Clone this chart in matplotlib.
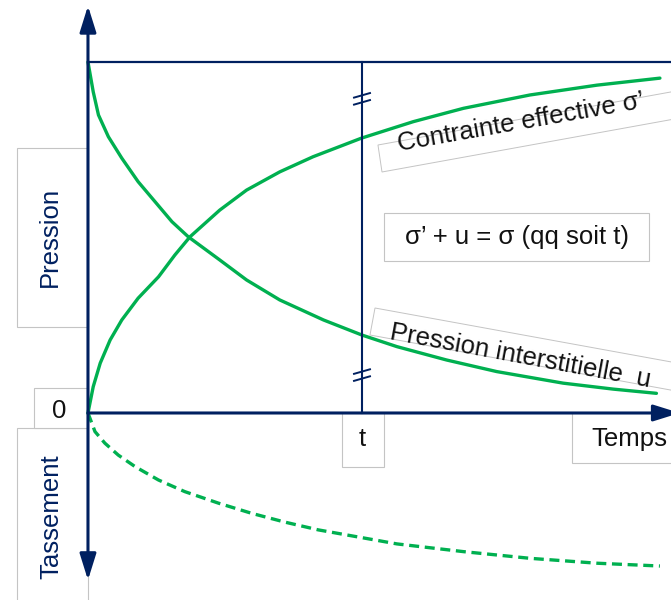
import matplotlib
matplotlib.use('Agg')
import matplotlib.pyplot as plt
from matplotlib.patches import Rectangle, Polygon, FancyArrowPatch

plt.rcParams['font.family'] = ['Liberation Sans', 'DejaVu Sans']

# time axis 0..100, pressure axis 0..100 (sigma = 100)
# pore pressure u
t_u = [0, 0.9, 1.8, 3.5, 5.8, 8.6, 11.5, 14.4, 17.2, 22.6, 27.2, 32.9, 40.4,
       47.0, 53.0, 61.5, 70.1, 81.5, 90.1, 97.5]
u = [100, 91.5, 84.9, 78.7, 72.6, 65.9, 60.2, 54.5, 50.2, 43.6, 37.9, 32.2, 26.5,
     22.2, 18.9, 15.1, 11.8, 8.5, 6.8, 5.6]

# effective stress sigma'
t_s = [0, 0.9, 2.1, 3.8, 5.8, 8.6, 12.1, 14.9, 17.5, 22.6, 27.2, 32.9, 38.6,
       46.9, 55.8, 64.4, 75.8, 87.3, 98.1]
sig_eff = [0, 7.5, 14.2, 20.8, 26.5, 32.7, 38.8, 45.0, 50.2, 57.8, 63.5, 68.7, 73.0,
           78.3, 83.0, 86.8, 90.6, 93.4, 95.4]

# settlement (plotted downwards)
t_tass = [0, 1.2, 2.9, 5.2, 8.1, 12.1, 16.6, 22.4, 28.1, 33.8, 39.5, 53.0, 64.4,
          75.8, 87.3, 98.1]
tass = [0, -5.3, -8.6, -12.0, -15.3, -19.1, -22.4, -25.7, -28.6, -31.1, -33.3,
        -37.3, -39.5, -41.4, -42.8, -43.6]

t_mark = 47.0   # instant t
sigma = 100

navy = '#002060'
green = '#00b050'
grey = '#c4c4c4'
fs = 18.5

fig = plt.figure(figsize=(6.71, 6.0), dpi=100)
ax = fig.add_axes([0, 0, 1, 1])
ax.set_xlim(-15.09, 100)
ax.set_ylim(-53.28, 117.66)
ax.axis('off')

# label boxes
def box(x0, y0, x1, y1):
    ax.add_patch(Rectangle((x0, y0), x1 - x0, y1 - y0, facecolor='white',
                           edgecolor=grey, lw=0.8, zorder=1))

box(-12.18, 24.5, 0, 75.5)      # Pression
box(-12.18, -60, 0, -4.27)      # Tassement
box(-9.26, -4.27, 0, 7.12)      # 0
box(43.5, -15.4, 50.8, 0)       # t
box(83.1, -14.2, 105, 0)        # Temps
box(50.8, 43.3, 96.3, 57.1)     # equation

ax.add_patch(Polygon([(49.74, 76.35), (104.97, 92.96), (104.97, 85.07), (50.43, 68.66)],
                     closed=True, facecolor='white', edgecolor=grey, lw=0.7, zorder=1))
ax.add_patch(Polygon([(49.23, 29.91), (104.97, 13.05), (104.97, 5.01), (48.37, 22.22)],
                     closed=True, facecolor='white', edgecolor=grey, lw=0.7, zorder=1))

# frame lines
ax.plot([0, 100], [sigma, sigma], color=navy, lw=1.6, zorder=3)
ax.plot([t_mark, t_mark], [0, sigma], color=navy, lw=1.5, zorder=3)

# axes arrows
ax.add_patch(FancyArrowPatch((0, -47.6), (0, 116.0), arrowstyle='<|-|>,head_length=1.6,head_width=0.5',
                             mutation_scale=10, color=navy, lw=2.2, shrinkA=0, shrinkB=0, zorder=4))
ax.add_patch(FancyArrowPatch((0, 0), (101.5, 0), arrowstyle='-|>,head_length=1.6,head_width=0.5',
                             mutation_scale=10, color=navy, lw=2.2, shrinkA=0, shrinkB=0, zorder=4))

# break marks on the vertical line
for yc in [89.5, 10.8]:
    for off in [1.0, -1.0]:
        ax.plot([t_mark - 1.37, t_mark + 1.37], [yc + off - 0.65, yc + off + 0.65],
                color=navy, lw=1.4, zorder=5)

# curves
ax.plot(t_u, u, color=green, lw=2.4, zorder=2, solid_capstyle='round', solid_joinstyle='round')
ax.plot(t_s, sig_eff, color=green, lw=2.4, zorder=2, solid_capstyle='round', solid_joinstyle='round')
ax.plot(t_tass, tass, color=green, lw=2.4, ls=(0, (3, 1.7)), zorder=2, dash_capstyle='butt')

# texts
ax.text(-6.52, 50.1, 'Pression', rotation=90, ha='center', va='center', fontsize=fs, color=navy)
ax.text(-6.35, -29.6, 'Tassement', rotation=90, ha='center', va='center', fontsize=fs, color=navy)
ax.text(-4.97, 0.5, '0', ha='center', va='center', fontsize=fs, color='#111111')
ax.text(t_mark, -7.3, 't', ha='center', va='center', fontsize=fs, color='#111111')
ax.text(86.4, -7.5, 'Temps', ha='left', va='center', fontsize=fs, color='#111111')
ax.text(73.6, 50.1, 'σ’ + u = σ (qq soit t)', ha='center', va='center', fontsize=fs, color='#111111')
ax.text(74.3, 82.7, 'Contrainte effective σ’', rotation=10, rotation_mode='anchor',
        ha='center', va='center', fontsize=fs, color='#111111')
ax.text(74.1, 16.2, 'Pression interstitielle  u', rotation=-10.5, rotation_mode='anchor',
        ha='center', va='center', fontsize=fs, color='#111111')

fig.savefig('out.png', dpi=100)
